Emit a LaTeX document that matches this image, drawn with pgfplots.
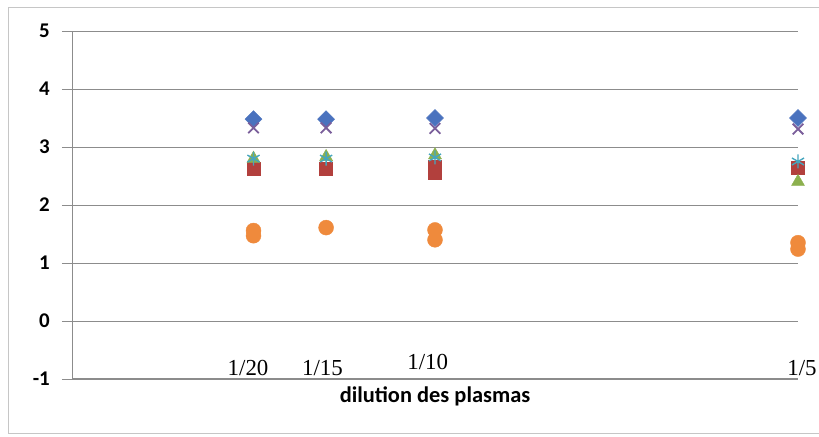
\documentclass[border=0pt]{standalone}
\usepackage{fontspec}
\setmainfont{Liberation Serif}
\newfontfamily\carlito{Carlito}
\usepackage{pgfplots}
\pgfplotsset{compat=1.18}
\definecolor{cblue}{HTML}{4A72BE}
\definecolor{cred}{HTML}{B2403D}
\definecolor{cgreen}{HTML}{8CB04E}
\definecolor{cpurple}{HTML}{7A5E9A}
\definecolor{ccyan}{HTML}{45A6BE}
\definecolor{corange}{HTML}{EF8A3C}
\definecolor{gridgray}{HTML}{8C8C8C}
\begin{document}
\begin{tikzpicture}
\path[use as bounding box] (0,0) rectangle (819bp,437bp);
\draw[gray!45, line width=0.8bp] (8bp,4bp) rectangle (850bp,430bp);
\begin{axis}[
  at={(72bp,58bp)}, anchor=south west,
  scale only axis, width=726bp, height=348bp,
  xmin=0, xmax=0.2, ymin=-1, ymax=5,
  ytick={-1,0,1,2,3,4,5}, xtick=\empty,
  axis x line=bottom, axis y line=left,
  axis line style={-, draw=gridgray, line width=1bp},
  ymajorgrids, grid style={draw=gridgray, line width=0.9bp},
  tick align=outside, major tick length=10bp,
  ytick style={draw=gridgray, line width=0.9bp},
  /pgf/number format/assume math mode=true,
  yticklabel style={font=\carlito\bfseries\fontsize{21}{23}\selectfont, inner sep=0pt, xshift=-12bp},
  xlabel={dilution des plasmas},
  xlabel style={font=\carlito\bfseries\fontsize{22.5}{25}\selectfont, at={(axis description cs:0.5,0)}, anchor=north, inner sep=0pt, yshift=-8bp},
  clip=false,
]
\addplot[only marks, mark=square*, mark size=6bp, color=cblue, mark options={rotate=45}] coordinates {
(0.05,3.48) (0.07,3.48) (0.1,3.50) (0.2,3.50)};
\addplot[only marks, mark=square*, mark size=6.5bp, color=cred] coordinates {
(0.05,2.63) (0.07,2.63) (0.1,2.56) (0.1,2.66) (0.2,2.65)};
\addplot[only marks, mark=triangle*, mark size=7.5bp, color=cgreen] coordinates {
(0.05,2.80) (0.07,2.83) (0.1,2.86) (0.2,2.40)};
\addplot[only marks, mark=x, mark size=7.5bp, color=cpurple, line width=1.8bp] coordinates {
(0.05,3.33) (0.07,3.33) (0.1,3.32) (0.2,3.31)};
\addplot[only marks, mark=asterisk, mark size=7bp, color=ccyan, line width=1.4bp] coordinates {
(0.05,2.80) (0.07,2.80) (0.1,2.82) (0.2,2.75)};
\addplot[only marks, mark=*, mark size=7.5bp, color=corange] coordinates {
(0.05,1.47) (0.05,1.56) (0.07,1.61) (0.1,1.40) (0.1,1.57) (0.2,1.24) (0.2,1.35)};
\node[font=\fontsize{23}{25}\selectfont, anchor=base, inner sep=0pt] at (axis cs:0.0485,-0.94) {1/20};
\node[font=\fontsize{23}{25}\selectfont, anchor=base, inner sep=0pt] at (axis cs:0.069,-0.94) {1/15};
\node[font=\fontsize{23}{25}\selectfont, anchor=base, inner sep=0pt] at (axis cs:0.098,-0.84) {1/10};
\node[font=\fontsize{23}{25}\selectfont, anchor=base east, inner sep=0pt] at (axis cs:0.2052,-0.94) {1/5};
\end{axis}
\end{tikzpicture}
\end{document}
